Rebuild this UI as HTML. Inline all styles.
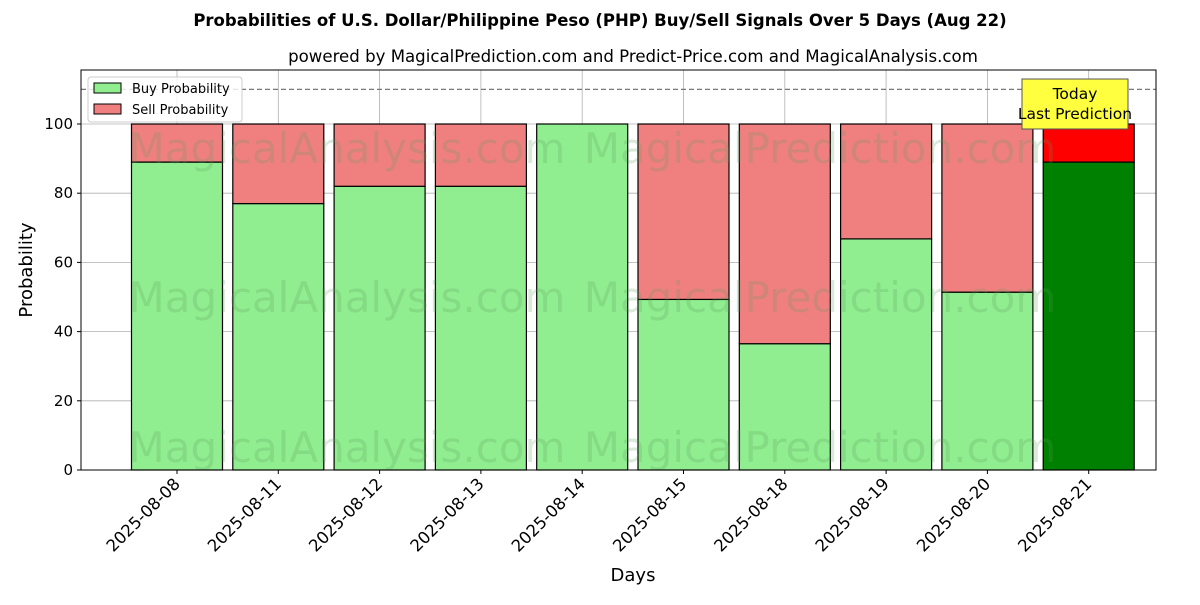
<!DOCTYPE html>
<html><head><meta charset="utf-8"><style>
body{margin:0;background:#fff;font-family:"Liberation Sans","DejaVu Sans",sans-serif}
svg text{font-family:"DejaVu Sans","Liberation Sans",sans-serif}
</style></head><body>
<svg id="c" width="1200" height="600" xmlns="http://www.w3.org/2000/svg"></svg>
<script>
const categories=["2025-08-08","2025-08-11","2025-08-12","2025-08-13","2025-08-14","2025-08-15","2025-08-18","2025-08-19","2025-08-20","2025-08-21"];
const buyValues=[89,77,82,82,100,49.3,36.5,66.8,51.4,89];
const sellValues=[11,23,18,18,0,50.7,63.5,33.2,48.6,11];
const yTicks=[0,20,40,60,80,100];
const NS="http://www.w3.org/2000/svg";
const svg=document.getElementById('c');
const L=81,R=1156,T=70,B=470;
const x=i=>177+i*101.3;
const y=v=>B-v*3.46;
const bw=91;
function el(tag,attrs,parent){const e=document.createElementNS(NS,tag);for(const k in attrs)e.setAttribute(k,attrs[k]);(parent||svg).appendChild(e);return e;}
function txt(s,attrs){const e=el('text',attrs);e.textContent=s;return e;}
let t;
t=txt("Probabilities of U.S. Dollar/Philippine Peso (PHP) Buy/Sell Signals Over 5 Days (Aug 22)",{x:600,y:26,'text-anchor':'middle','font-size':16.5,'font-weight':'bold'});

t=txt("powered by MagicalPrediction.com and Predict-Price.com and MagicalAnalysis.com",{x:633,y:62,'text-anchor':'middle','font-size':16.6});

yTicks.forEach(v=>{const g=el('line',{x1:L,x2:R,y1:y(v),y2:y(v),stroke:'#b0b0b0','stroke-width':0.8});

const k=txt(String(v),{x:L-8,y:y(v)+5,'text-anchor':'end','font-size':15});

el('line',{x1:L-4,x2:L,y1:y(v),y2:y(v),stroke:'#000'});});
categories.forEach((c,i)=>{const g=el('line',{x1:x(i),x2:x(i),y1:T,y2:B,stroke:'#b0b0b0','stroke-width':0.8});
});
categories.forEach((c,i)=>{const last=i===categories.length-1;
const b=el('rect',{x:x(i)-bw/2,y:y(buyValues[i]),width:bw,height:y(0)-y(buyValues[i]),fill:last?'#008000':'#90ee90',stroke:'#000','stroke-width':1.2});

const s=el('rect',{x:x(i)-bw/2,y:y(buyValues[i]+sellValues[i]),width:bw,height:y(buyValues[i])-y(buyValues[i]+sellValues[i]),fill:last?'#ff0000':'#f08080',stroke:'#000','stroke-width':1.2});

el('line',{x1:x(i),x2:x(i),y1:B,y2:B+4,stroke:'#000'});
const k=txt(c,{x:x(i)+4,y:B+15,'text-anchor':'end','font-size':16.5,transform:`rotate(-45 ${x(i)+4} ${B+15})`});
});
[["MagicalAnalysis.com",347,163],["MagicalPrediction.com",820,163],["MagicalAnalysis.com",347,312],["MagicalPrediction.com",820,312],["MagicalAnalysis.com",347,462],["MagicalPrediction.com",820,462]].forEach(w=>{
const e=txt(w[0],{x:w[1],y:w[2],'text-anchor':'middle','font-size':42,fill:'#5a9a5a','fill-opacity':0.22});
});
const d=el('line',{x1:L,x2:R,y1:y(110),y2:y(110),stroke:'#777','stroke-dasharray':'5,3','stroke-width':1.2});

const fr=el('rect',{x:L,y:T,width:R-L,height:B-T,fill:'none',stroke:'#000','stroke-width':1});

const an=el('g',{});
el('rect',{x:1022,y:79,width:106,height:50,fill:'#ffff40',stroke:'#555','stroke-width':1},an);
[["Today",99],["Last Prediction",119]].forEach(a=>{const e=el('text',{x:1075,y:a[1],'text-anchor':'middle','font-size':15.5,'font-family':'Liberation Sans, sans-serif'},an);e.textContent=a[0];});
const lg=el('g',{});
el('rect',{x:88,y:77,width:154,height:45,fill:'#fff','fill-opacity':0.8,stroke:'#ccc',rx:3},lg);
[["Buy Probability",'#90ee90',83],["Sell Probability",'#f08080',104]].forEach(a=>{
el('rect',{x:94,y:a[2],width:27,height:10,fill:a[1],stroke:'#000'},lg);
const e=el('text',{x:132,y:a[2]+10,'font-size':13},lg);e.textContent=a[0];
});
t=txt("Days",{x:633,y:581,'text-anchor':'middle','font-size':18});

t=txt("Probability",{x:32,y:270,'text-anchor':'middle','font-size':18,transform:'rotate(-90 32 270)'});

</script>
</body></html>
